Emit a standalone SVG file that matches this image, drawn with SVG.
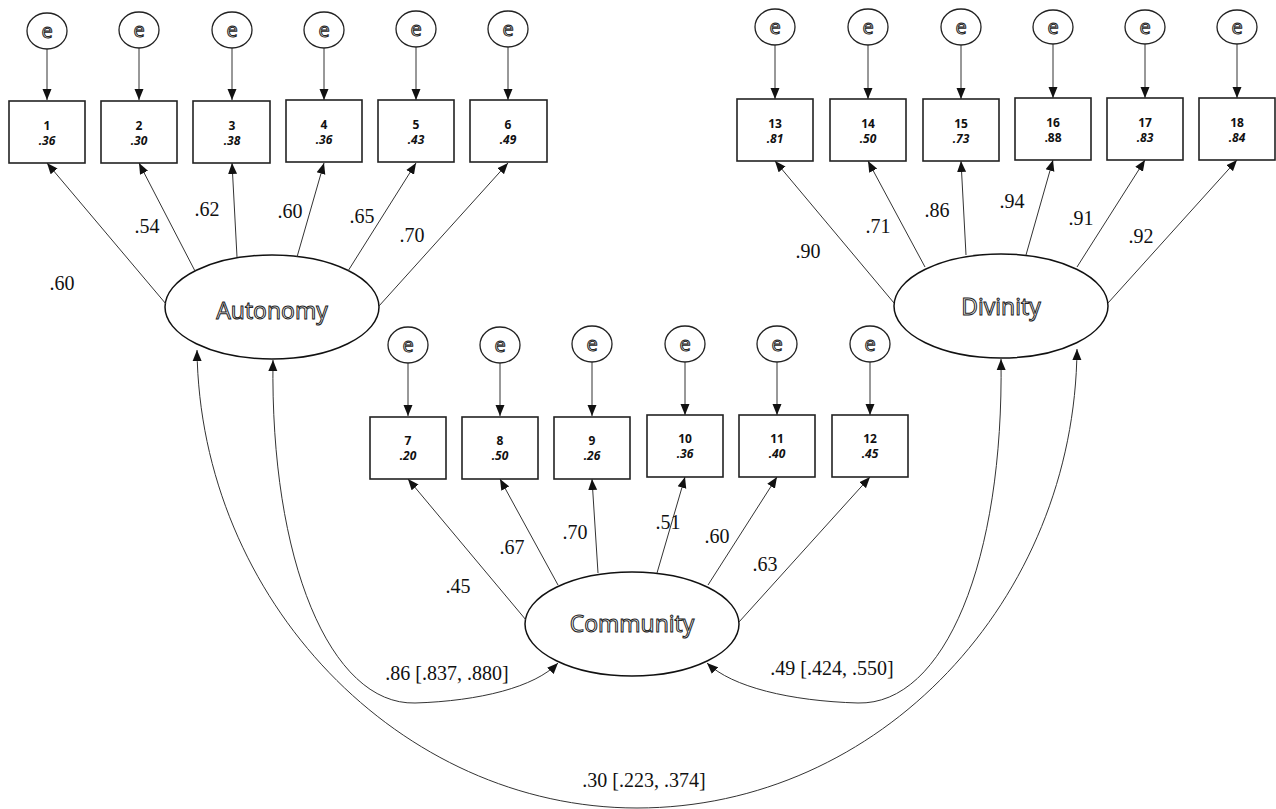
<svg xmlns="http://www.w3.org/2000/svg" width="1276" height="809" viewBox="0 0 1276 809">
<defs>
<marker id="ar" markerUnits="userSpaceOnUse" markerWidth="12" markerHeight="10" refX="11" refY="5" orient="auto-start-reverse">
<path d="M0,0.5 L11,5 L0,9.5 z" fill="#111"/>
</marker>
<style>
.e{fill:#fff;stroke:#222;stroke-width:1.3}
.et{font-family:"Open Sans","DejaVu Sans",sans-serif;font-size:20px;fill:#fff;stroke:#222;stroke-width:1;text-anchor:middle}
.bx{fill:#fff;stroke:#222;stroke-width:1.6}
.bn{font-family:"Open Sans","DejaVu Sans",sans-serif;font-size:12px;font-weight:700;fill:#111;text-anchor:middle}
.bv{font-family:"Open Sans","DejaVu Sans",sans-serif;font-size:12px;font-weight:700;font-style:italic;fill:#111;text-anchor:middle}
.lv{fill:#fff;stroke:#111;stroke-width:1.5}
.lt{font-family:"Open Sans","DejaVu Sans",sans-serif;font-size:23px;fill:#fff;stroke:#222;stroke-width:1;text-anchor:middle}
.ln{fill:none;stroke:#333;stroke-width:1;marker-end:url(#ar)}
.cv{fill:none;stroke:#333;stroke-width:1;marker-start:url(#ar);marker-end:url(#ar)}
.lb{font-family:"Liberation Serif","Times New Roman",serif;font-size:20px;fill:#111;text-anchor:middle}
</style>
</defs>
<rect width="1276" height="809" fill="#fff"/>

<g id="e1"><ellipse class="e" cx="47" cy="31" rx="20" ry="18"/><text class="et" x="47" y="38">e</text></g>
<g id="e2"><ellipse class="e" cx="139" cy="30" rx="20" ry="18"/><text class="et" x="139" y="37">e</text></g>
<g id="e3"><ellipse class="e" cx="232" cy="30" rx="20" ry="18"/><text class="et" x="232" y="37">e</text></g>
<g id="e4"><ellipse class="e" cx="324" cy="30" rx="20" ry="18"/><text class="et" x="324" y="37">e</text></g>
<g id="e5"><ellipse class="e" cx="416" cy="29" rx="20" ry="18"/><text class="et" x="416" y="36">e</text></g>
<g id="e6"><ellipse class="e" cx="508" cy="29" rx="20" ry="18"/><text class="et" x="508" y="36">e</text></g>

<g id="e13"><ellipse class="e" cx="775" cy="27" rx="20" ry="18"/><text class="et" x="775" y="34">e</text></g>
<g id="e14"><ellipse class="e" cx="868" cy="27" rx="20" ry="18"/><text class="et" x="868" y="34">e</text></g>
<g id="e15"><ellipse class="e" cx="961" cy="27" rx="20" ry="18"/><text class="et" x="961" y="34">e</text></g>
<g id="e16"><ellipse class="e" cx="1053" cy="27" rx="20" ry="17"/><text class="et" x="1053" y="34">e</text></g>
<g id="e17"><ellipse class="e" cx="1145" cy="27" rx="20" ry="17"/><text class="et" x="1145" y="34">e</text></g>
<g id="e18"><ellipse class="e" cx="1237" cy="27" rx="20" ry="17"/><text class="et" x="1237" y="34">e</text></g>

<g id="e7"><ellipse class="e" cx="408" cy="345" rx="20" ry="18"/><text class="et" x="408" y="352">e</text></g>
<g id="e8"><ellipse class="e" cx="500" cy="345" rx="20" ry="18"/><text class="et" x="500" y="352">e</text></g>
<g id="e9"><ellipse class="e" cx="592" cy="344" rx="20" ry="18"/><text class="et" x="592" y="351">e</text></g>
<g id="e10"><ellipse class="e" cx="685" cy="344" rx="20" ry="18"/><text class="et" x="685" y="351">e</text></g>
<g id="e11"><ellipse class="e" cx="777" cy="344" rx="20" ry="18"/><text class="et" x="777" y="351">e</text></g>
<g id="e12"><ellipse class="e" cx="870" cy="344" rx="20" ry="18"/><text class="et" x="870" y="351">e</text></g>

<g id="item1"><rect class="bx" x="9" y="101" width="76" height="62"/><text class="bn" x="47" y="130">1</text><text class="bv" x="47" y="145">.36</text></g>
<g id="item2"><rect class="bx" x="101" y="101" width="76" height="62"/><text class="bn" x="139" y="130">2</text><text class="bv" x="139" y="145">.30</text></g>
<g id="item3"><rect class="bx" x="193" y="101" width="77" height="62"/><text class="bn" x="232" y="130">3</text><text class="bv" x="232" y="145">.38</text></g>
<g id="item4"><rect class="bx" x="286" y="100" width="76" height="62"/><text class="bn" x="324" y="129">4</text><text class="bv" x="324" y="144">.36</text></g>
<g id="item5"><rect class="bx" x="378" y="100" width="76" height="62"/><text class="bn" x="416" y="129">5</text><text class="bv" x="416" y="144">.43</text></g>
<g id="item6"><rect class="bx" x="470" y="100" width="77" height="62"/><text class="bn" x="508" y="129">6</text><text class="bv" x="508" y="144">.49</text></g>

<g id="item13"><rect class="bx" x="737" y="99" width="76" height="62"/><text class="bn" x="775" y="128">13</text><text class="bv" x="775" y="143">.81</text></g>
<g id="item14"><rect class="bx" x="830" y="99" width="76" height="62"/><text class="bn" x="868" y="128">14</text><text class="bv" x="868" y="143">.50</text></g>
<g id="item15"><rect class="bx" x="923" y="99" width="76" height="62"/><text class="bn" x="961" y="128">15</text><text class="bv" x="961" y="143">.73</text></g>
<g id="item16"><rect class="bx" x="1015" y="98" width="76" height="62"/><text class="bn" x="1053" y="127">16</text><text class="bn" x="1053" y="142">.88</text></g>
<g id="item17"><rect class="bx" x="1107" y="98" width="76" height="62"/><text class="bn" x="1145" y="127">17</text><text class="bv" x="1145" y="142">.83</text></g>
<g id="item18"><rect class="bx" x="1199" y="98" width="76" height="62"/><text class="bn" x="1237" y="127">18</text><text class="bv" x="1237" y="142">.84</text></g>

<g id="item7"><rect class="bx" x="370" y="417" width="76" height="62"/><text class="bn" x="408" y="445">7</text><text class="bv" x="408" y="460">.20</text></g>
<g id="item8"><rect class="bx" x="462" y="417" width="76" height="62"/><text class="bn" x="500" y="445">8</text><text class="bv" x="500" y="460">.50</text></g>
<g id="item9"><rect class="bx" x="554" y="417" width="76" height="62"/><text class="bn" x="592" y="445">9</text><text class="bv" x="592" y="460">.26</text></g>
<g id="item10"><rect class="bx" x="647" y="415" width="76" height="62"/><text class="bn" x="685" y="443">10</text><text class="bv" x="685" y="458">.36</text></g>
<g id="item11"><rect class="bx" x="739" y="415" width="76" height="62"/><text class="bn" x="777" y="443">11</text><text class="bv" x="777" y="458">.40</text></g>
<g id="item12"><rect class="bx" x="832" y="415" width="76" height="62"/><text class="bn" x="870" y="443">12</text><text class="bv" x="870" y="458">.45</text></g>

<g id="autonomy"><ellipse class="lv" cx="272" cy="307" rx="107" ry="52"/><text class="lt" x="272" y="319">Autonomy</text></g>
<g id="divinity"><ellipse class="lv" cx="1001" cy="306" rx="107" ry="52"/><text class="lt" x="1001" y="315">Divinity</text></g>
<g id="community"><ellipse class="lv" cx="632" cy="624" rx="107" ry="52"/><text class="lt" x="632" y="632">Community</text></g>

<g id="connectors">
<line class="ln" x1="47" y1="49" x2="47" y2="100"/>
<line class="ln" x1="139" y1="48" x2="139" y2="100"/>
<line class="ln" x1="232" y1="48" x2="232" y2="100"/>
<line class="ln" x1="324" y1="48" x2="324" y2="100"/>
<line class="ln" x1="416" y1="47" x2="416" y2="100"/>
<line class="ln" x1="508" y1="47" x2="508" y2="100"/>
<line class="ln" x1="775" y1="45" x2="775" y2="99"/>
<line class="ln" x1="868" y1="45" x2="868" y2="99"/>
<line class="ln" x1="961" y1="45" x2="961" y2="99"/>
<line class="ln" x1="1053" y1="44" x2="1053" y2="98"/>
<line class="ln" x1="1145" y1="44" x2="1145" y2="98"/>
<line class="ln" x1="1237" y1="44" x2="1237" y2="98"/>
<line class="ln" x1="408" y1="363" x2="408" y2="416"/>
<line class="ln" x1="500" y1="363" x2="500" y2="416"/>
<line class="ln" x1="592" y1="362" x2="592" y2="416"/>
<line class="ln" x1="685" y1="362" x2="685" y2="415"/>
<line class="ln" x1="777" y1="362" x2="777" y2="415"/>
<line class="ln" x1="870" y1="362" x2="870" y2="415"/>
<line class="ln" x1="166" y1="304" x2="47" y2="163"/>
<line class="ln" x1="195" y1="271" x2="139" y2="163"/>
<line class="ln" x1="237" y1="257" x2="232" y2="163"/>
<line class="ln" x1="297" y1="257" x2="324" y2="163"/>
<line class="ln" x1="348" y1="271" x2="416" y2="163"/>
<line class="ln" x1="379" y1="306" x2="508" y2="163"/>
<line class="ln" x1="894" y1="303" x2="775" y2="161"/>
<line class="ln" x1="925" y1="267" x2="868" y2="161"/>
<line class="ln" x1="966" y1="255" x2="961" y2="161"/>
<line class="ln" x1="1026" y1="255" x2="1053" y2="160"/>
<line class="ln" x1="1077" y1="267" x2="1145" y2="160"/>
<line class="ln" x1="1108" y1="303" x2="1237" y2="160"/>
<line class="ln" x1="526" y1="620" x2="408" y2="479"/>
<line class="ln" x1="558" y1="585" x2="500" y2="479"/>
<line class="ln" x1="598" y1="573" x2="592" y2="479"/>
<line class="ln" x1="657" y1="573" x2="685" y2="477"/>
<line class="ln" x1="708" y1="585" x2="777" y2="477"/>
<line class="ln" x1="739" y1="622" x2="870" y2="477"/>
<path class="cv" d="M273,360 C270,560 330,705 415,703 C480,701 535,687 558,663"/>
<path class="cv" d="M1001,359 C1004,560 945,705 858,703 C790,701 732,687 707,663"/>
<path class="cv" d="M197,350 C200,600 400,808 637,808 C880,808 1075,600 1077,349"/>
</g>

<g id="labels">
<text class="lb" x="62" y="290">.60</text>
<text class="lb" x="147" y="233">.54</text>
<text class="lb" x="207" y="216">.62</text>
<text class="lb" x="290" y="218">.60</text>
<text class="lb" x="362" y="223">.65</text>
<text class="lb" x="412" y="242">.70</text>
<text class="lb" x="808" y="258">.90</text>
<text class="lb" x="878" y="233">.71</text>
<text class="lb" x="937" y="217">.86</text>
<text class="lb" x="1012" y="208">.94</text>
<text class="lb" x="1081" y="225">.91</text>
<text class="lb" x="1141" y="243">.92</text>
<text class="lb" x="458" y="593">.45</text>
<text class="lb" x="512" y="554">.67</text>
<text class="lb" x="575" y="539">.70</text>
<text class="lb" x="668" y="529">.51</text>
<text class="lb" x="717" y="543">.60</text>
<text class="lb" x="765" y="571">.63</text>
<text class="lb" x="447" y="680">.86 [.837, .880]</text>
<text class="lb" x="832" y="675">.49 [.424, .550]</text>
<text class="lb" x="644" y="787">.30 [.223, .374]</text>
</g>
</svg>
